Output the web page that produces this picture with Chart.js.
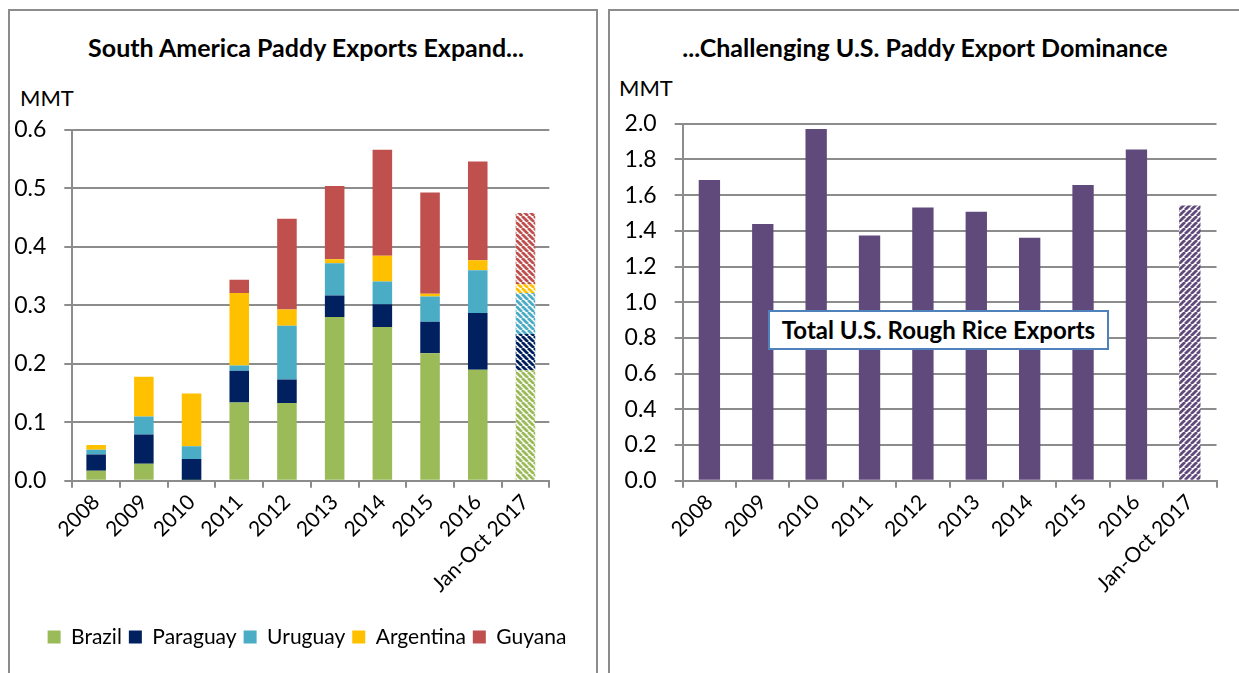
<!DOCTYPE html>
<html>
<head>
<meta charset="utf-8">
<script src="https://cdn.jsdelivr.net/npm/chart.js@4/dist/chart.umd.min.js"></script>
<style>
  body { margin: 0; background: #fff; width: 1239px; height: 673px; overflow: hidden; position: relative; font-family: Lato, 'Open Sans', sans-serif; }
  .panel { position: absolute; box-sizing: border-box; border: 2px solid #8c8c8c; height: 720px; }
  .title { position: absolute; font-weight: bold; font-size: 25px; line-height: 30px; color: #000; white-space: nowrap; transform: translateX(-50%); }
  .unit { position: absolute; font-size: 22px; color: #000; }
  canvas { position: absolute; top: 0; }
  #note { position: absolute; left: 768px; top: 310px; width: 341px; height: 40px; box-sizing: border-box;
          border: 2px solid #4f81bd; background: #fff; font-weight: bold; font-size: 24px; text-align: center; line-height: 36px; white-space: nowrap; }
</style>
</head>
<body>
<div class="panel" style="left:8px; top:9px; width:590px;"></div>
<div class="panel" style="left:608px; top:9px; width:700px;"></div>
<div class="title" style="left:306px; top:32px;">South America Paddy Exports Expand...</div>
<div class="title" style="left:925px; top:32px;">...Challenging U.S. Paddy Export Dominance</div>
<div class="unit" style="left:20px; top:84px;">MMT</div>
<div class="unit" style="left:619px; top:74px;">MMT</div>
<canvas id="left" width="614" height="673" style="left:0;"></canvas>
<canvas id="right" width="630" height="673" style="left:609px;"></canvas>
<div id="note">Total U.S. Rough Rice Exports</div>
<script>
const years = ['2008', '2009', '2010', '2011', '2012', '2013', '2014', '2015', '2016', 'Jan-Oct 2017'];

// South America paddy exports, MMT
const brazil    = [0.017, 0.029, 0.001, 0.134, 0.133, 0.280, 0.263, 0.218, 0.190, 0.189];
const paraguay  = [0.028, 0.050, 0.036, 0.054, 0.040, 0.037, 0.039, 0.054, 0.097, 0.062];
const uruguay   = [0.008, 0.031, 0.022, 0.009, 0.092, 0.055, 0.039, 0.043, 0.073, 0.070];
const argentina = [0.008, 0.068, 0.090, 0.124, 0.028, 0.007, 0.044, 0.005, 0.017, 0.015];
const guyana    = [0.000, 0.000, 0.000, 0.023, 0.155, 0.125, 0.181, 0.173, 0.169, 0.122];

// Total U.S. rough rice exports, MMT
const usRough = [1.684, 1.438, 1.970, 1.374, 1.531, 1.507, 1.361, 1.656, 1.856, 1.542];

const FONT = "Lato, 'Open Sans', sans-serif";
const GRID = '#8c8c8c';
const partial = years.length - 1;

function hatch(color, up) {
    const c = document.createElement('canvas');
    c.width = c.height = 6;
    const g = c.getContext('2d');
    g.fillStyle = '#fff';
    g.fillRect(0, 0, 6, 6);
    g.strokeStyle = color;
    g.lineWidth = 2.8;
    g.beginPath();
    for (const o of [-6, 0, 6]) {
        if (up) { g.moveTo(o, 6); g.lineTo(o + 6, 0); }
        else { g.moveTo(o, 0); g.lineTo(o + 6, 6); }
    }
    g.stroke();
    return g.createPattern(c, 'repeat');
}

function fill(color, up) {
    const p = hatch(color, up);
    return ctx => ctx.dataIndex === partial ? p : color;
}

function yAxis(max, step, width) {
    return {
        min: 0, max: max,
        afterFit: s => { s.width = width; },
        ticks: { stepSize: step, padding: 18, color: '#000', font: { family: FONT, size: 23 },
                 callback: v => v.toFixed(1) },
        grid: { color: GRID, lineWidth: 2, tickLength: 8 },
        border: { display: true, color: GRID, width: 2 }
    };
}

function xAxis(height) {
    return {
        afterFit: s => { s.height = height; },
        ticks: { maxRotation: 45, minRotation: 45, padding: 2, color: '#000', font: { family: FONT, size: 21 } },
        grid: { drawOnChartArea: false, color: GRID, lineWidth: 2, tickLength: 7 },
        border: { display: true, color: GRID, width: 2 }
    };
}

const series = [
    ['Brazil', brazil, '#9bbb59'],
    ['Paraguay', paraguay, '#002060'],
    ['Uruguay', uruguay, '#4bacc6'],
    ['Argentina', argentina, '#ffc000'],
    ['Guyana', guyana, '#c0504d']
];

new Chart(document.getElementById('left'), {
    type: 'bar',
    data: {
        labels: years,
        datasets: series.map(([name, vals, color]) => ({
            label: name,
            data: vals,
            backgroundColor: fill(color, false),
            categoryPercentage: 1,
            barPercentage: 0.41
        }))
    },
    options: {
        responsive: false,
        animation: false,
        layout: { padding: { top: 130, bottom: 15.5, left: 0, right: 0 } },
        scales: {
            x: Object.assign(xAxis(138.8), { stacked: true }),
            y: Object.assign(yAxis(0.6, 0.1, 72.3), { stacked: true }),
            pad: { position: 'right', display: true, afterFit: s => { s.width = 64.7; },
                   ticks: { display: false }, grid: { display: false }, border: { display: false } }
        },
        plugins: {
            legend: {
                position: 'bottom',
                labels: { boxWidth: 13, boxHeight: 13, padding: 7, color: '#000', font: { family: FONT, size: 21 } }
            },
            tooltip: { enabled: false }
        }
    }
});

new Chart(document.getElementById('right'), {
    type: 'bar',
    data: {
        labels: years,
        datasets: [{
            label: 'Total U.S. Rough Rice Exports',
            data: usRough,
            backgroundColor: fill('#604a7b', true),
            categoryPercentage: 1,
            barPercentage: 0.4
        }]
    },
    options: {
        responsive: false,
        animation: false,
        layout: { padding: { top: 123.7, bottom: 0, left: 0, right: 22.5 } },
        scales: {
            x: xAxis(192.3),
            y: yAxis(2.0, 0.2, 73.7)
        },
        plugins: { legend: { display: false }, tooltip: { enabled: false } }
    }
});
</script>
</body>
</html>
